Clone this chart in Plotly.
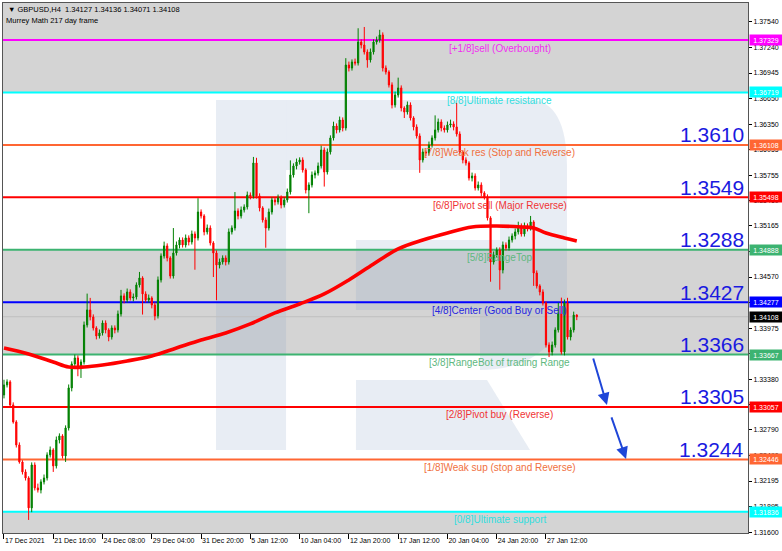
import plotly.graph_objects as go

# ---------------- data ----------------
first_open = 1.33197
closes = [
    1.33314, 1.33349, 1.33081, 1.32883, 1.32615, 1.32417, 1.32301, 1.32231, 1.31882, 1.32382,
    1.32115, 1.32091, 1.32185, 1.32231, 1.32499, 1.32557, 1.32371, 1.32673, 1.32720, 1.32487,
    1.32813, 1.33279, 1.33558, 1.33628, 1.33535, 1.33581, 1.34012, 1.34187, 1.34105, 1.33977,
    1.33884, 1.33919, 1.34035, 1.33954, 1.33872, 1.33977, 1.33954, 1.34140, 1.34350, 1.34303,
    1.34396, 1.34326, 1.34338, 1.34478, 1.34559, 1.34373, 1.34303, 1.34326, 1.34245, 1.34117,
    1.34536, 1.34815, 1.34932, 1.34792, 1.34582, 1.34850, 1.34943, 1.35001, 1.34943, 1.35025,
    1.34978, 1.35071, 1.35025, 1.35327, 1.35281, 1.35095, 1.35141, 1.34967, 1.34850, 1.34710,
    1.34745, 1.34792, 1.34745, 1.35095, 1.35141, 1.35339, 1.35281, 1.35351, 1.35386, 1.35525,
    1.35514, 1.35898, 1.35514, 1.35374, 1.35234, 1.35141, 1.35327, 1.35467, 1.35444, 1.35490,
    1.35409, 1.35467, 1.35560, 1.35758, 1.35863, 1.35909, 1.35933, 1.35816, 1.35583, 1.35642,
    1.35758, 1.35781, 1.35863, 1.36049, 1.35793, 1.36026, 1.36189, 1.36328, 1.36282, 1.36398,
    1.36305, 1.37038, 1.37003, 1.37073, 1.37062, 1.37306, 1.37271, 1.37190, 1.37097, 1.37190,
    1.37306, 1.37329, 1.37388, 1.37003, 1.36957, 1.36806, 1.36573, 1.36689, 1.36771, 1.36538,
    1.36491, 1.36573, 1.36422, 1.36317, 1.36212, 1.35933, 1.36026, 1.36015, 1.36107, 1.36189,
    1.36282, 1.36375, 1.36305, 1.36282, 1.36340, 1.36352, 1.36317, 1.36235, 1.36026, 1.35933,
    1.35898, 1.35723, 1.35746, 1.35607, 1.35642, 1.35549, 1.35502, 1.35258, 1.34745, 1.34827,
    1.34885, 1.34652, 1.34943, 1.34908, 1.35001, 1.35048, 1.35095, 1.35164, 1.35071, 1.35164,
    1.35141, 1.35211, 1.34617, 1.34466, 1.34396, 1.34268, 1.33779, 1.33698, 1.33779, 1.33954,
    1.34140, 1.33698, 1.34268, 1.33872, 1.33954, 1.34127, 1.34108,
]
upper_wick_pips = [
    6, 3, 2, 3, 2, 3, 2, 3, 2, 3,
    3, 5, 3, 4, 3, 4, 2, 4, 3, 2,
    3, 4, 3, 4, 3, 3, 4, 19, 14, 3,
    2, 4, 3, 3, 2, 3, 3, 4, 7, 3,
    4, 3, 4, 3, 7, 2, 3, 4, 2, 3,
    4, 3, 5, 3, 2, 29, 4, 3, 3, 4,
    3, 4, 3, 16, 3, 2, 4, 3, 2, 3,
    4, 3, 3, 4, 3, 22, 3, 4, 3, 4,
    3, 7, 6, 3, 2, 3, 4, 3, 3, 4,
    3, 3, 4, 17, 3, 4, 3, 3, 2, 3,
    4, 3, 4, 5, 3, 4, 3, 5, 3, 4,
    3, 8, 4, 3, 4, 16, 3, 21, 3, 4,
    3, 4, 6, 3, 3, 2, 3, 4, 12, 3,
    2, 4, 3, 2, 3, 3, 4, 3, 4, 3,
    17, 4, 3, 3, 4, 5, 3, 28, 3, 2,
    3, 2, 4, 3, 4, 3, 2, 3, 2, 4,
    3, 3, 4, 3, 4, 3, 4, 5, 3, 4,
    3, 7, 2, 3, 2, 3, 2, 3, 4, 3,
    13, 19, 4, 6, 3, 4, 1,
]
lower_wick_pips = [
    4, 3, 3, 2, 3, 2, 3, 3, 14, 5,
    3, 3, 4, 3, 3, 3, 7, 3, 4, 3,
    7, 3, 4, 3, 12, 14, 3, 3, 4, 3,
    4, 3, 3, 4, 5, 3, 4, 3, 3, 4,
    3, 3, 4, 3, 3, 24, 3, 3, 4, 5,
    3, 3, 3, 4, 3, 3, 3, 4, 3, 3,
    4, 3, 37, 3, 3, 4, 3, 3, 28, 41,
    4, 3, 4, 3, 3, 3, 4, 3, 3, 3,
    4, 3, 3, 4, 3, 23, 3, 3, 4, 3,
    4, 3, 3, 3, 3, 4, 3, 3, 4, 27,
    3, 4, 3, 3, 17, 3, 3, 3, 4, 3,
    4, 3, 4, 3, 3, 3, 4, 3, 9, 3,
    3, 3, 3, 4, 3, 3, 4, 3, 3, 4,
    7, 3, 3, 4, 3, 15, 3, 4, 3, 3,
    3, 3, 4, 3, 3, 3, 4, 3, 3, 4,
    3, 3, 4, 3, 3, 4, 3, 3, 23, 3,
    3, 23, 4, 3, 3, 3, 4, 3, 3, 3,
    4, 3, 15, 3, 4, 3, 3, 6, 4, 3,
    3, 3, 4, 3, 4, 3, 4,
]

ma_idx = [0, 8, 16, 21, 26, 32, 40, 48, 56, 64, 72, 80, 88, 96, 104, 112, 120, 128,
          136, 144, 152, 160, 168, 172, 176, 182, 186]
ma_val = [1.33744, 1.33674, 1.33581, 1.33523, 1.33523, 1.33546, 1.33593, 1.33651, 1.33744,
          1.33837, 1.33919, 1.34024, 1.34152, 1.34256, 1.34373, 1.34536, 1.34722, 1.34897,
          1.35001, 1.35083, 1.35153, 1.35164, 1.35153, 1.35141, 1.35083, 1.35025, 1.34990]

tick_idx = [0, 16, 32, 48, 64, 80, 96, 112, 128, 144, 160, 176]
tick_text = ["17 Dec 2021", "21 Dec 16:00", "24 Dec 08:00", "29 Dec 04:00", "31 Dec 20:00",
             "5 Jan 12:00", "10 Jan 04:00", "12 Jan 20:00", "17 Jan 12:00", "20 Jan 04:00",
             "24 Jan 20:00", "27 Jan 12:00"]

y_ticks = [1.37540, 1.37240, 1.36945, 1.36650, 1.36350, 1.36055, 1.35755, 1.35460, 1.35165,
           1.34870, 1.34570, 1.34275, 1.33975, 1.33680, 1.33380, 1.33085, 1.32790, 1.32490,
           1.32195, 1.31895, 1.31600]

level_prices = [1.37329, 1.36719, 1.36108, 1.35498, 1.34888, 1.34277, 1.33667, 1.33057,
                1.32446, 1.31836]
level_names = ["[+1/8]sell (Overbought)", "[8/8]Ultimate resistance",
               "[7/8]Weak res (Stop and Reverse)", "[6/8]Pivot sell (Major Reverse)",
               "[5/8]RangeTop", "[4/8]Center (Good Buy or Sell)",
               "[3/8]RangeBot of trading Range", "[2/8]Pivot buy (Reverse)",
               "[1/8]Weak sup (stop and Reverse)", "[0/8]Ultimate support"]
level_colors = ["#ff00ff", "#00ffff", "#ff6633", "#ff0000", "#3cb371", "#0000ff",
                "#3cb371", "#ff0000", "#ff6633", "#00ffff"]
level_text_colors = ["#f030f0", "#30dede", "#f07040", "#f03434", "#60b880", "#2626e0",
                     "#60b880", "#f03434", "#f07040", "#30dede"]

big_labels = ["1.3610", "1.3549", "1.3288", "1.3427", "1.3366", "1.3305", "1.3244"]
big_label_levels = [1.36108, 1.35498, 1.34888, 1.34277, 1.33667, 1.33057, 1.32446]

current_price = 1.34108
header_line1 = "▼ GBPUSD,H4  1.34127 1.34136 1.34071 1.34108"
header_line2 = "Murrey Math 217 day frame"

# target arrows: (tail index, tail price) -> (head index, head price)
arrows = [((191.2, 1.33639), (195.8, 1.33081)), ((197.1, 1.32953), (202.0, 1.32452))]

assert len(closes) == len(upper_wick_pips) == len(lower_wick_pips)

opens = [first_open] + closes[:-1]
highs = [max(o, c) + u * 0.0001 for o, c, u in zip(opens, closes, upper_wick_pips)]
lows = [min(o, c) - d * 0.0001 for o, c, d in zip(opens, closes, lower_wick_pips)]
xs = list(range(len(closes)))

Y_RANGE = [1.31590, 1.37760]
X_RANGE = [-0.32, 241.6]

fig = go.Figure()
fig.add_trace(go.Candlestick(
    x=xs, open=opens, high=highs, low=lows, close=closes,
    increasing=dict(line=dict(color="#008000", width=1), fillcolor="#008000"),
    decreasing=dict(line=dict(color="#ff0000", width=1), fillcolor="#ff0000"),
    whiskerwidth=0, showlegend=False, hoverinfo="skip",
))
fig.add_trace(go.Scatter(
    x=ma_idx, y=ma_val, mode="lines", line=dict(color="#ff0000", width=3.6, shape="spline"),
    showlegend=False, hoverinfo="skip",
))

shapes = []
band_fill = "#d4d4d4"
for y0, y1 in [(1.36719, 1.3790), (1.33667, 1.34888), (1.3150, 1.31836)]:
    shapes.append(dict(type="rect", xref="paper", yref="y", x0=0, x1=1, y0=y0, y1=y1,
                       fillcolor=band_fill, line=dict(width=0), layer="below"))


def P(px, py):
    return f"{(px - 3) / 745:.4f},{(533 - py) / 530:.4f}"


wm = "rgba(140,165,200,0.2)"
paths = [
    "M" + P(216, 100) + " L" + P(286, 100) + " L" + P(286, 450) + " L" + P(216, 450) + " Z",
    "M" + P(286, 100) + " L" + P(530, 100) + " C" + P(555, 100) + " " + P(567, 125) + " " + P(567, 165)
    + " L" + P(567, 290) + " C" + P(567, 335) + " " + P(540, 370) + " " + P(480, 370)
    + " L" + P(480, 310) + " L" + P(356, 310) + " L" + P(356, 240) + " L" + P(500, 240)
    + " L" + P(500, 170) + " L" + P(286, 170) + " Z",
    "M" + P(356, 380) + " L" + P(487, 380) + " L" + P(530, 450) + " L" + P(356, 450) + " Z",
]
for p in paths:
    shapes.append(dict(type="path", xref="paper", yref="paper", path=p, fillcolor=wm,
                       line=dict(width=0), layer="below"))

shapes.append(dict(type="line", xref="paper", yref="y", x0=0, x1=1, y0=current_price,
                   y1=current_price, line=dict(color="#c0c0c0", width=1), layer="below"))
for lp, lc in zip(level_prices, level_colors):
    shapes.append(dict(type="line", xref="paper", yref="y", x0=0, x1=1, y0=lp, y1=lp,
                       line=dict(color=lc, width=2), layer="below"))

ann = []
FONT = "Liberation Sans, Arial, sans-serif"
for name, lp, tc in zip(level_names, level_prices, level_text_colors):
    ann.append(dict(x=161, y=lp, xref="x", yref="y", text=name, showarrow=False,
                    xanchor="center", yanchor="middle", yshift=-8,
                    font=dict(family=FONT, size=10, color=tc)))
for t, lp in zip(big_labels, big_label_levels):
    ann.append(dict(x=1, y=lp, xref="paper", yref="y", text=t, showarrow=False,
                    xanchor="right", yanchor="middle", xshift=-2, yshift=10,
                    font=dict(family=FONT, size=21, color="#1a1ae0")))
# price boxes on the right axis
for lp, lc in zip(level_prices + [current_price], level_colors + ["#000000"]):
    ann.append(dict(x=1, y=lp, xref="paper", yref="y", text=f"{lp:.5f}", showarrow=False,
                    xanchor="left", yanchor="middle", xshift=1, width=32, height=10,
                    bgcolor=lc, borderpad=0, align="center",
                    font=dict(family=FONT, size=7, color="#ffffff")))
ann.append(dict(x=0, y=1, xref="paper", yref="paper", text=header_line1, showarrow=False,
                xanchor="left", yanchor="top", xshift=3, yshift=0,
                font=dict(family=FONT, size=7.5, color="#000000")))
ann.append(dict(x=0, y=1, xref="paper", yref="paper", text=header_line2, showarrow=False,
                xanchor="left", yanchor="top", xshift=1, yshift=-11,
                font=dict(family=FONT, size=7.5, color="#000000")))
for (tx, ty), (hx, hy) in arrows:
    ann.append(dict(x=hx, y=hy, ax=tx, ay=ty, xref="x", yref="y", axref="x", ayref="y",
                    showarrow=True, arrowhead=2, arrowsize=1.2, arrowwidth=2,
                    arrowcolor="#1f46d8", text=""))

fig.update_layout(
    width=782, height=551,
    margin=dict(l=3, r=34, t=3, b=18),
    paper_bgcolor="#ffffff", plot_bgcolor="#ffffff",
    showlegend=False, boxgap=0.45,
    shapes=shapes, annotations=ann,
    xaxis=dict(range=X_RANGE, tickvals=tick_idx, ticktext=tick_text, showgrid=False,
               zeroline=False, ticks="outside", ticklen=5, tickcolor="#000000",
               ticklabelposition="outside right", tickangle=0, automargin=False,
               ticklabelstandoff=1,
               tickfont=dict(family=FONT, size=7, color="#000000"),
               showline=True, mirror=True, linecolor="#555555", linewidth=1,
               rangeslider=dict(visible=False), fixedrange=True),
    yaxis=dict(range=Y_RANGE, side="right", tickvals=y_ticks, automargin=False,
               ticktext=[f"{v:.5f}" for v in y_ticks], showgrid=False, zeroline=False,
               ticks="outside", ticklen=3, tickcolor="#000000",
               tickfont=dict(family=FONT, size=7, color="#000000"),
               showline=True, mirror=True, linecolor="#555555", linewidth=1),
    font=dict(family=FONT),
)

fig.write_html("out.html", config={"displayModeBar": False},
               post_script="document.body.style.margin='0';")
